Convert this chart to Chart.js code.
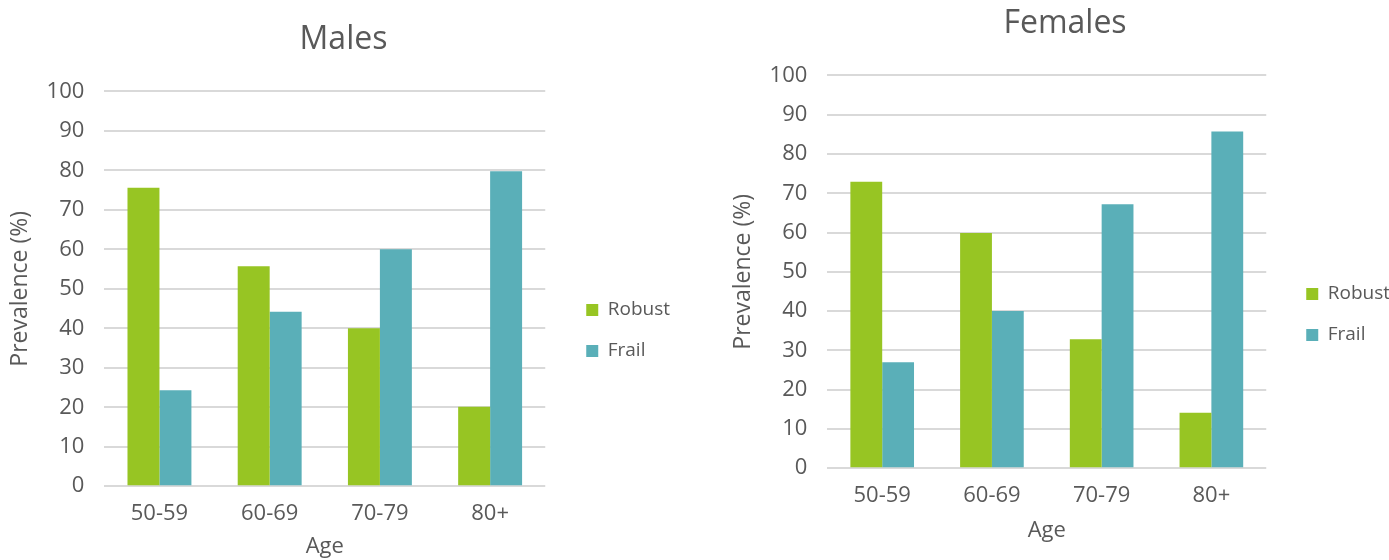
<!DOCTYPE html>
<html lang="en">
<head>
    <meta charset="UTF-8">
    <title>Prevalence of frailty by age</title>
    <script src="https://cdn.jsdelivr.net/npm/chart.js"></script>
    <style>
        body { margin: 0; background: #fff; overflow: hidden; }
        .panel { position: absolute; top: 0; height: 560px; }
        #left { left: 0; width: 690px; }
        #right { left: 700px; width: 720px; }
    </style>
</head>
<body>
    <div class="panel" id="left"><canvas id="graficoMales"></canvas></div>
    <div class="panel" id="right"><canvas id="graficoFemales"></canvas></div>

    <script>
    // datos
    const ageGroups = ['50-59', '60-69', '70-79', '80+'];
    const malesRobust = [75.6, 55.7, 40.0, 20.1];
    const malesFrail = [24.3, 44.2, 60.0, 79.8];
    const femalesRobust = [72.9, 59.9, 32.8, 14.1];
    const femalesFrail = [27.0, 40.0, 67.2, 85.7];
    const yTicks = [0, 10, 20, 30, 40, 50, 60, 70, 80, 90, 100];

    const fontFamily = "'Open Sans', sans-serif";
    const textColor = '#595959';

    // separa la leyenda del grafico (como en Excel)
    function legendShift(dx, dy) {
        return {
            id: 'legendShift',
            beforeInit(chart) {
                const fit = chart.legend.fit;
                chart.legend.fit = function () { fit.call(this); this.width += dx; };
            },
            afterLayout(chart) {
                chart.legend.left += dx;
                chart.legend.top += dy;
                chart.legend.bottom += dy;
            }
        };
    }

    function crearGrafico(id, titulo, robust, frail, opt) {
        const ctx = document.getElementById(id).getContext('2d');
        return new Chart(ctx, {
            type: 'bar',
            data: {
                labels: ageGroups,
                datasets: [
                    { label: 'Robust', data: robust, backgroundColor: '#97c523', borderWidth: 0 },
                    { label: 'Frail', data: frail, backgroundColor: '#5aafb8', borderWidth: 0 }
                ]
            },
            options: {
                responsive: true,
                maintainAspectRatio: false,
                animation: false,
                datasets: { bar: { barPercentage: 1.0, categoryPercentage: 0.58 } },
                layout: { padding: opt.pad },
                scales: {
                    x: {
                        // marcas invisibles: solo dan el espacio entre el eje y las etiquetas
                        grid: { display: true, drawOnChartArea: false, drawTicks: true, tickLength: 14, tickColor: 'rgba(0,0,0,0)' },
                        border: { display: false },
                        ticks: { color: textColor, font: { family: fontFamily, size: 22 }, padding: 0 },
                        title: { display: true, text: 'Age', color: textColor, font: { family: fontFamily, size: 22 }, padding: { top: opt.agePad, bottom: 0 } }
                    },
                    y: {
                        min: 0,
                        max: 100,
                        afterBuildTicks: axis => { axis.ticks = yTicks.map(v => ({ value: v })); },
                        grid: { color: '#d9d9d9', lineWidth: 2, drawTicks: true, tickLength: 20, tickColor: 'rgba(0,0,0,0)' },
                        border: { display: false },
                        ticks: { color: textColor, font: { family: fontFamily, size: 22 }, padding: 0 },
                        title: { display: true, text: 'Prevalence (%)', color: textColor, font: { family: fontFamily, size: 23 }, padding: { top: 0, bottom: 12 } }
                    }
                },
                plugins: {
                    title: { display: true, text: titulo, color: textColor, font: { family: fontFamily, size: 32, weight: 'normal' }, padding: { top: 0, bottom: 32 } },
                    legend: {
                        position: 'right',
                        labels: { color: textColor, font: { family: fontFamily, size: 19 }, boxWidth: 12, boxHeight: 12, padding: 22 }
                    },
                    tooltip: { enabled: false }
                }
            },
            plugins: [legendShift(opt.dx, 40)]
        });
    }

    crearGrafico('graficoMales', 'Males', malesRobust, malesFrail,
        { pad: { top: 21, left: 7, right: 10, bottom: 0 }, agePad: 7, dx: 19 });
    crearGrafico('graficoFemales', 'Females', femalesRobust, femalesFrail,
        { pad: { top: 5, left: 30, right: 20, bottom: 16 }, agePad: 9, dx: 18 });
    </script>
</body>
</html>
